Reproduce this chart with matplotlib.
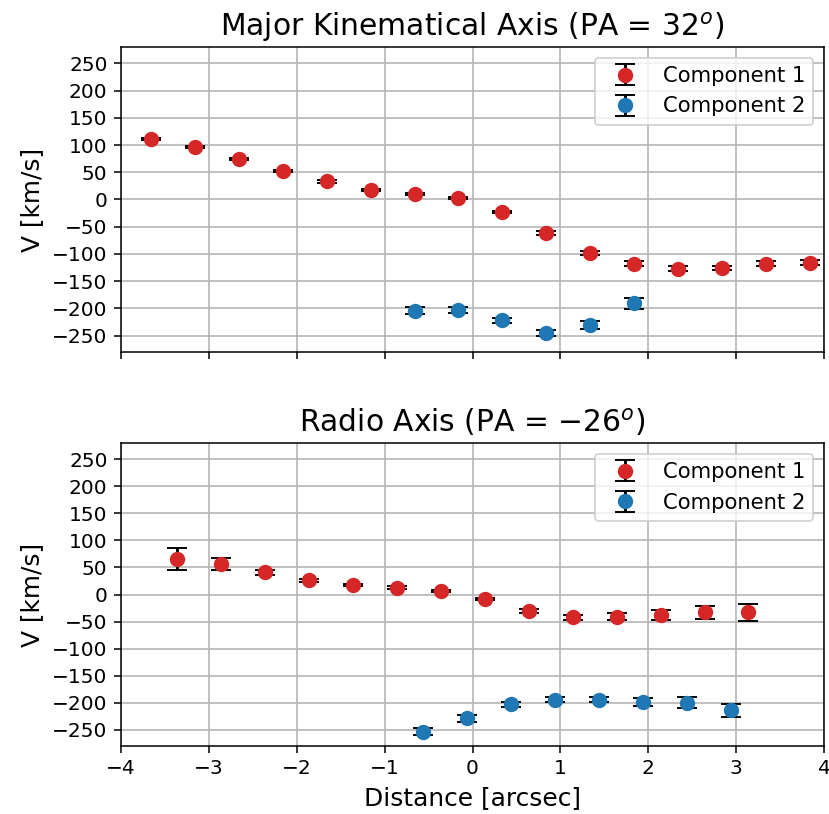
import numpy as np
import matplotlib
matplotlib.use('Agg')
import matplotlib.pyplot as plt

# --- data: major kinematical axis (PA = 32) ---
maj_x1 = [-3.66, -3.16, -2.66, -2.16, -1.66, -1.16, -0.66, -0.16, 0.34, 0.84, 1.34, 1.84, 2.34, 2.84, 3.34, 3.84]
maj_v1 = [111, 97, 74, 52, 33, 17, 10, 2, -23, -62, -98, -118, -127, -126, -118, -116]
maj_e1 = [2, 2, 2, 2, 2, 2, 2, 2, 2, 3.5, 4, 5, 4, 4, 4.5, 4.5]
maj_x2 = [-0.66, -0.16, 0.34, 0.84, 1.34, 1.84]
maj_v2 = [-204, -203, -222, -245, -230, -191]
maj_e2 = [6.5, 5.5, 5, 5.5, 7, 10]

# --- data: radio axis (PA = -26) ---
rad_x1 = [-3.36, -2.86, -2.36, -1.86, -1.36, -0.86, -0.36, 0.14, 0.64, 1.14, 1.64, 2.14, 2.64, 3.14]
rad_v1 = [66, 56, 41, 26, 18, 13, 6, -8, -30, -42, -41, -38, -33, -33]
rad_e1 = [20, 11, 5, 3, 2, 2, 2, 2, 3.5, 5, 6.5, 9, 12, 15]
rad_x2 = [-0.56, -0.06, 0.44, 0.94, 1.44, 1.94, 2.44, 2.94]
rad_v2 = [-254, -229, -203, -194, -194, -199, -200, -214]
rad_e2 = [6.5, 6, 4.5, 4.5, 4.5, 7, 10, 12.5]

DPI = 138
fig = plt.figure(figsize=(829 / DPI, 814 / DPI), dpi=DPI)
ax1 = fig.add_axes([0.146, 0.5676, 0.848, 0.3747])
ax2 = fig.add_axes([0.146, 0.0835, 0.848, 0.3722], sharex=ax1)

panels = [
    (ax1, maj_x1, maj_v1, maj_e1, maj_x2, maj_v2, maj_e2, r'Major Kinematical Axis (PA = $32^o$)'),
    (ax2, rad_x1, rad_v1, rad_e1, rad_x2, rad_v2, rad_e2, r'Radio Axis (PA = $-26^o$)'),
]

for ax, x1, v1, e1, x2, v2, e2, title in panels:
    ax.errorbar(x1, v1, yerr=e1, fmt='o', color='tab:red', ecolor='k',
                ms=7, capsize=5, label='Component 1', zorder=3)
    ax.errorbar(x2, v2, yerr=e2, fmt='o', color='tab:blue', ecolor='k',
                ms=7, capsize=5, label='Component 2', zorder=3)
    ax.set_xlim(-4, 4)
    ax.set_ylim(-280, 280)
    ax.set_yticks(np.arange(-250, 251, 50))
    ax.tick_params(labelsize=10.5)
    ax.grid(True)
    ax.set_axisbelow(True)
    ax.set_ylabel('V [km/s]', fontsize=13)
    ax.set_title(title, fontsize=15.5)
    ax.legend(loc='upper right', fontsize=11)

plt.setp(ax1.get_xticklabels(), visible=False)
ax2.set_xlabel('Distance [arcsec]', fontsize=13)

fig.savefig('out.png', dpi=DPI)
